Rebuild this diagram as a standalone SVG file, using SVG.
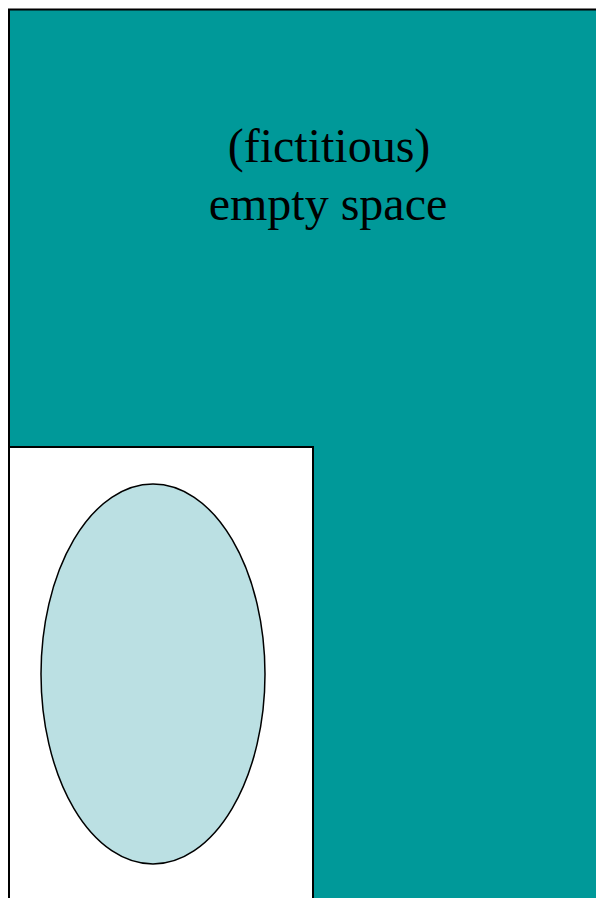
<svg xmlns="http://www.w3.org/2000/svg" width="596" height="898" viewBox="0 0 596 898">
<style>
.lbl{font-family:"Liberation Serif","Times New Roman",serif;font-size:48px;fill:#000;text-anchor:middle}
</style>
<rect x="0" y="0" width="596" height="898" fill="#fff"/>
<g id="empty-space">
<rect x="9" y="9.5" width="600" height="900" fill="#009999" stroke="#000" stroke-width="2"/>
<text class="lbl" x="329" y="162">(fictitious)</text>
<text class="lbl" x="328" y="220">empty space</text>
</g>
<g id="box">
<rect x="9" y="447" width="304" height="460" fill="#fff" stroke="#000" stroke-width="2"/>
</g>
<g id="ellipse">
<ellipse cx="153" cy="674" rx="112" ry="190" fill="#BBE0E3" stroke="#000" stroke-width="1.5"/>
</g>
<g id="connectors"/>
</svg>
